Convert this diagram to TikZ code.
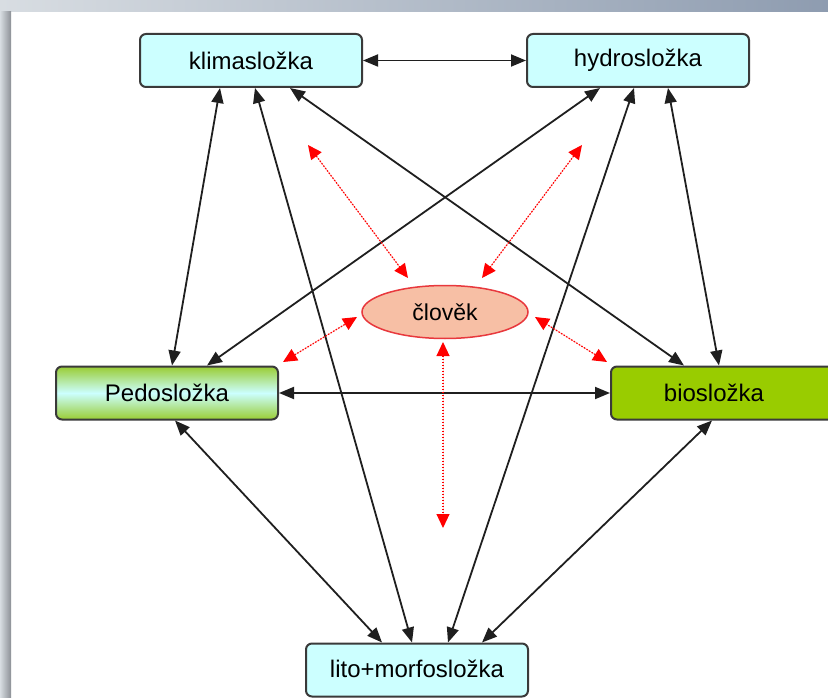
\documentclass[tikz,border=0pt]{standalone}
\usepackage{fontspec}
\setmainfont{Liberation Sans}
\usetikzlibrary{arrows.meta,shapes.geometric}
\definecolor{boxcyan}{HTML}{CCFFFF}
\definecolor{biogreen}{HTML}{99CC00}
\definecolor{pedogreen}{HTML}{99CC33}
\definecolor{humanfill}{HTML}{F7BFA5}
\definecolor{humanred}{HTML}{E8383D}
\definecolor{edgegray}{HTML}{3A3A3A}
\definecolor{framelight}{HTML}{D8DDE2}
\definecolor{frameblue}{HTML}{8E9CB0}
\definecolor{framedark}{HTML}{8C9096}
\begin{document}
\begin{tikzpicture}[x=1pt,y=-1pt,
  box/.style={draw=edgegray, line width=2pt, rounded corners=6pt,
    minimum width=222pt, minimum height=53pt, inner sep=0pt,
    font=\fontsize{24}{28}\selectfont},
  link/.style={{Triangle[length=15pt,width=12pt]}-{Triangle[length=15pt,width=12pt]},
    line width=1.8pt, draw=black!88},
  hlink/.style={{Triangle[length=14pt,width=13pt]}-{Triangle[length=14pt,width=13pt]},
    draw=red, fill=red, line width=1.2pt, dash pattern=on 1.5pt off 1.5pt}
]
\useasboundingbox (0,0) rectangle (828,698);
\clip (0,0) rectangle (828,698);
\fill[white] (0,0) rectangle (828,698);
\shade[left color=framelight, right color=frameblue] (0,0) rectangle (828,12);
\shade[left color=framelight, right color=framedark] (0,12) rectangle (11,698);

% nodes
\node[box, fill=boxcyan] (klima) at (251,60.5) {klimasložka};
\node[box, fill=boxcyan] (hydro) at (638,60.5) {hydrosložka};
\node[box, top color=pedogreen, bottom color=pedogreen, middle color=boxcyan] (pedo) at (167,393) {Pedosložka};
\node[box, fill=biogreen, minimum width=230pt] (bio) at (726,393) {\hspace*{-24pt}biosložka};
\node[box, fill=boxcyan] (lito) at (417,670) {\raisebox{3pt}{lito+morfosložka}};
\node[ellipse, draw=humanred, line width=1.5pt, fill=humanfill, minimum width=166pt,
  minimum height=53pt, inner sep=0pt, font=\fontsize{23}{27}\selectfont] (clovek) at (445,312) {člověk};

% black connectors
\draw[link] (klima.east) -- (hydro.west);
\draw[link] (pedo.east) -- (bio.west);
\draw[link] ([xshift=-31pt]klima.south) -- ([xshift=5pt]pedo.north);
\draw[link] ([xshift=4pt]klima.south) -- ([xshift=-5pt]lito.north);
\draw[link] ([xshift=39pt]klima.south) -- ([xshift=74pt]bio.north west);
\draw[link] ([xshift=-38pt]hydro.south) -- ([xshift=40pt]pedo.north);
\draw[link] ([xshift=-4pt]hydro.south) -- ([xshift=31pt]lito.north);
\draw[link] ([xshift=30pt]hydro.south) -- ([xshift=109pt]bio.north west);
\draw[link] ([xshift=8pt]pedo.south) -- ([xshift=-35pt]lito.north);
\draw[link] ([xshift=102pt]bio.south west) -- ([xshift=65pt]lito.north);

% red dotted connectors
\coordinate (h1) at (308,145);
\coordinate (h2) at (582,145);
\coordinate (h3) at (283,362);
\coordinate (h4) at (607,362);
\coordinate (h5) at (443,528);
\draw[hlink] (h1) -- ([shift={(-37,-34)}]clovek.center);
\draw[hlink] (h2) -- ([shift={(37,-34)}]clovek.center);
\draw[hlink] (h3) -- ([shift={(-88,5)}]clovek.center);
\draw[hlink] (h4) -- ([shift={(90,5)}]clovek.center);
\draw[hlink] ([shift={(-2,30)}]clovek.center) -- (h5);
\end{tikzpicture}
\end{document}
